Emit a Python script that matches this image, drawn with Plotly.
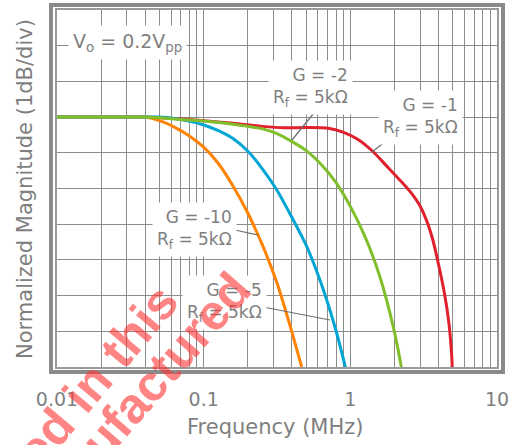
import plotly.graph_objects as go

# Frequency response, normalized magnitude (dB) vs frequency (MHz)
freq_g10 = [0.01, 0.02, 0.0316, 0.0398, 0.0501, 0.0631, 0.0794, 0.1, 0.1259, 0.1585, 0.1995,
            0.2512, 0.3162, 0.3981, 0.466]
mag_g10 = [0.0, 0.0, 0.0, 0.0, -0.10, -0.28, -0.52, -0.84, -1.30, -1.93, -2.68,
           -3.58, -4.65, -6.0, -7.0]

freq_g5 = [0.01, 0.02, 0.0398, 0.0501, 0.0631, 0.0794, 0.1, 0.1259, 0.1585, 0.1995, 0.2512,
           0.3162, 0.3981, 0.5012, 0.631, 0.7943, 0.925]
mag_g5 = [0.0, 0.0, 0.0, 0.0, -0.04, -0.11, -0.22, -0.38, -0.60, -0.95, -1.45,
          -2.05, -2.8, -3.6, -4.65, -5.95, -7.0]

freq_g2 = [0.01, 0.02, 0.0398, 0.0631, 0.1, 0.1585, 0.2512, 0.3162, 0.3981, 0.5012, 0.631,
           0.7943, 1.0, 1.259, 1.585, 1.995, 2.228]
mag_g2 = [0.0, 0.0, 0.0, -0.05, -0.11, -0.20, -0.33, -0.46, -0.68, -0.94, -1.32,
          -1.82, -2.5, -3.35, -4.45, -6.0, -7.0]

freq_g1 = [0.01, 0.02, 0.0398, 0.0631, 0.1, 0.1585, 0.2512, 0.3548, 0.5012, 0.7079, 0.8913,
           1.122, 1.413, 1.778, 2.239, 2.63, 2.951, 3.311, 3.631, 3.981, 4.365, 4.677, 4.898, 4.95]
mag_g1 = [0.0, 0.0, 0.0, -0.04, -0.10, -0.17, -0.26, -0.30, -0.29, -0.31, -0.42,
          -0.62, -0.95, -1.38, -1.82, -2.15, -2.45, -2.9, -3.4, -4.1, -4.9, -5.7, -6.6, -7.0]

x_tick_vals = [0.01, 0.1, 1, 10]
x_tick_text = ["0.01", "0.1", "1", "10"]

# figure geometry (pixels)
W, H = 514, 445
ML, MR, MT, MB = 57, 17, 10, 78
PW, PH = W - ML - MR, H - MT - MB


def px(xp):
    return (xp - ML) / PW


def py(yp):
    return (H - MB - yp) / PH


GRAY = "#7f7f7f"
GRID = "#8c8c8c"

fig = go.Figure()

series = [
    (freq_g1, mag_g1, "#e0202c"),
    (freq_g10, mag_g10, "#ff8200"),
    (freq_g5, mag_g5, "#00a5d4"),
    (freq_g2, mag_g2, "#80bf2a"),
]
for fx, my, col in series:
    fig.add_trace(go.Scatter(
        x=fx, y=my, mode="lines",
        line=dict(color=col, width=3, shape="spline", smoothing=0.8),
        showlegend=False, hoverinfo="skip",
    ))

minor_vals = [m * d for d in (0.01, 0.1, 1) for m in range(2, 10)]

fig.update_xaxes(
    type="log", range=[-2, 1], automargin=False,
    tickvals=x_tick_vals, ticktext=x_tick_text,
    ticks="outside", ticklen=14, tickcolor="rgba(0,0,0,0)",
    tickfont=dict(size=19, color=GRAY),
    showgrid=True, gridcolor=GRID, gridwidth=1,
    minor=dict(tickvals=minor_vals, showgrid=True, gridcolor=GRID, gridwidth=1, ticks=""),
    showline=True, linecolor="#9a9a9a", linewidth=2, mirror=True,
    zeroline=False,
)
fig.update_yaxes(
    range=[-7, 3], dtick=1, tick0=0, automargin=False,
    showticklabels=False, ticks="",
    showgrid=True, gridcolor=GRID, gridwidth=1,
    showline=True, linecolor="#9a9a9a", linewidth=2, mirror=True,
    zeroline=False,
)

shapes = []
# outer frame around the plotting area
shapes.append(dict(type="rect", xref="paper", yref="paper",
                   x0=px(51), x1=px(503), y0=py(372), y1=py(5),
                   line=dict(color="#8a8a8a", width=4), layer="above"))
# leader lines from labels to curves
leaders = [((318, 108), (292, 140)),
           ((387, 140), (372, 152)),
           ((235, 230), (258, 235)),
           ((263, 307), (330, 320))]
for (xa, ya), (xb, yb) in leaders:
    shapes.append(dict(type="line", xref="paper", yref="paper",
                       x0=px(xa), y0=py(ya), x1=px(xb), y1=py(yb),
                       line=dict(color="#6e6e6e", width=1.2), layer="above"))

annots = []
labels = [
    ("V<sub>o</sub> = 0.2V<sub>pp</sub>", 127, 42, "center", 19),
    ("G = -2<br>R<sub>f</sub> = 5kΩ", 310, 87, "right", 17),
    ("G = -1<br>R<sub>f</sub> = 5kΩ", 420, 117, "right", 17),
    ("G = -10<br>R<sub>f</sub> = 5kΩ", 194, 229, "right", 17),
    ("G = -5<br>R<sub>f</sub> = 5kΩ", 224, 302, "right", 17),
]
for txt, xc, yc, al, fs in labels:
    annots.append(dict(text=txt, xref="paper", yref="paper", x=px(xc), y=py(yc),
                       xanchor="center", yanchor="middle", align=al,
                       showarrow=False, bgcolor="white", borderpad=4,
                       font=dict(family="DejaVu Sans", size=fs, color=GRAY)))

# axis titles
annots.append(dict(text="Frequency (MHz)", xref="paper", yref="paper",
                   x=px(275), y=py(427), xanchor="center", yanchor="middle",
                   showarrow=False, font=dict(family="DejaVu Sans", size=21, color=GRAY)))
annots.append(dict(text="Normalized Magnitude (1dB/div)", xref="paper", yref="paper",
                   x=px(25), y=py(189), xanchor="center", yanchor="middle", textangle=-90,
                   showarrow=False, font=dict(family="DejaVu Sans", size=21, color=GRAY)))

# red stamp text
stamp_font = dict(family="Liberation Sans", size=50, color="rgba(255,50,50,0.6)")
annots.append(dict(text="<b>recommended in this</b>", xref="paper", yref="paper",
                   x=px(6), y=py(485), xanchor="center", yanchor="middle", textangle=-50,
                   showarrow=False, font=stamp_font))
annots.append(dict(text="<b>manufactured</b>", xref="paper", yref="paper",
                   x=px(132), y=py(405), xanchor="center", yanchor="middle", textangle=-49,
                   showarrow=False, font=stamp_font))

fig.update_layout(
    width=W, height=H,
    margin=dict(l=ML, r=MR, t=MT, b=MB),
    paper_bgcolor="white", plot_bgcolor="white",
    font=dict(family="DejaVu Sans", color=GRAY),
    shapes=shapes, annotations=annots,
)

fig.write_html("out.html")
